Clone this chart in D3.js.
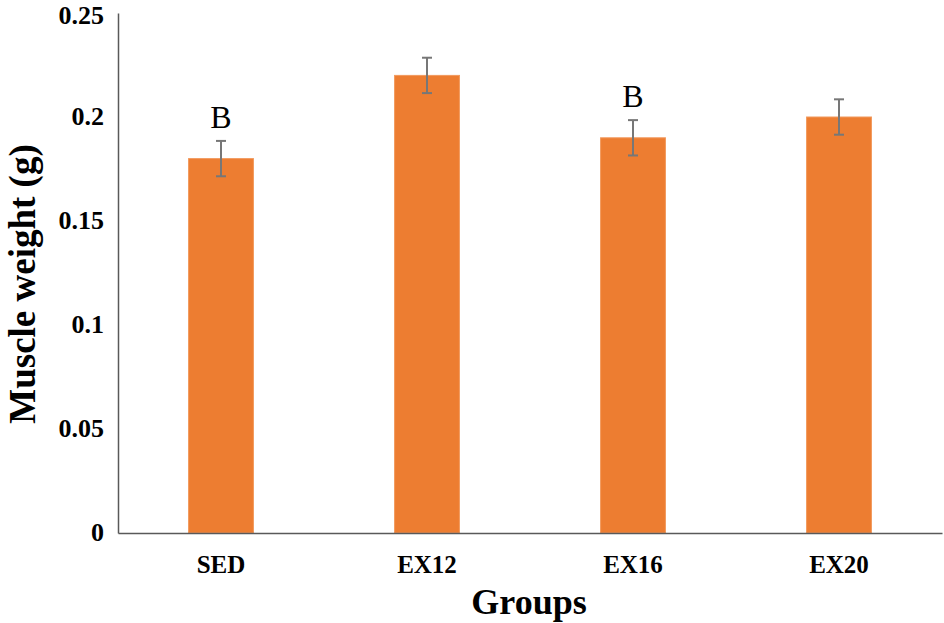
<!DOCTYPE html>
<html><head><meta charset="utf-8">
<script src="https://cdn.jsdelivr.net/npm/d3@7"></script>
<style>body{margin:0;background:#fff}svg{display:block}</style>
</head><body>
<script>
const categories = ["SED", "EX12", "EX16", "EX20"];
const values = [0.18, 0.22, 0.19, 0.20];
const errors = [0.0085, 0.0085, 0.0085, 0.0085];
const letters = ["B", "", "B", ""];
const yTicks = [0, 0.05, 0.1, 0.15, 0.2, 0.25];
const yTickLabels = ["0", "0.05", "0.1", "0.15", "0.2", "0.25"];

(function () {
const W = 944, H = 623;
const mLeft = 118, mRight = 942, mTop = 13, mBottom = 533;
const svg = d3.select("body").append("svg").attr("width", W).attr("height", H);
const font = "'Liberation Serif','Times New Roman',serif";

const x = d3.scaleBand().domain(categories).range([mLeft, mRight]).paddingInner(0.685).paddingOuter(0.3425);
const y = d3.scaleLinear().domain([0, 0.25]).range([mBottom, mTop]);

// bars
svg.selectAll("rect.bar").data(categories).join("rect")
  .attr("class", "bar")
  .attr("x", d => x(d)).attr("width", x.bandwidth())
  .attr("y", (d, i) => y(values[i])).attr("height", (d, i) => mBottom - y(values[i]))
  .attr("fill", "#ED7D31").attr("stroke", "#F29A5E").attr("stroke-width", 1);

// error bars
const eb = svg.append("g").attr("stroke", "#777").attr("stroke-width", 2);
categories.forEach((c, i) => {
  const cx = x(c) + x.bandwidth() / 2;
  const y1 = y(values[i] + errors[i]), y2 = y(values[i] - errors[i]);
  eb.append("line").attr("x1", cx).attr("x2", cx).attr("y1", y1).attr("y2", y2);
  eb.append("line").attr("x1", cx - 5).attr("x2", cx + 5).attr("y1", y1).attr("y2", y1);
  eb.append("line").attr("x1", cx - 5).attr("x2", cx + 5).attr("y1", y2).attr("y2", y2);
});

// letters
svg.selectAll("text.letter").data(categories).join("text")
  .attr("class", "letter")
  .attr("x", d => x(d) + x.bandwidth() / 2)
  .attr("y", (d, i) => y(values[i] + errors[i]) - 13)
  .attr("text-anchor", "middle")
  .attr("font-family", font).attr("font-size", 32)
  .text((d, i) => letters[i]);

// y axis
const yAxis = d3.axisLeft(y).tickValues(yTicks).tickFormat((d, i) => yTickLabels[i]).tickSize(0).tickPadding(14);
const gy = svg.append("g").attr("transform", `translate(${mLeft},0)`).call(yAxis);
gy.select(".domain").attr("stroke", "#595959").attr("stroke-width", 1.5);
gy.selectAll("text").attr("font-family", font).attr("font-weight", "bold").attr("font-size", 26).attr("fill", "#000")
  .attr("dy", (d, i) => i === yTicks.length - 1 ? "0.42em" : "0.3em");

// x axis
const xAxis = d3.axisBottom(x).tickSize(0).tickPadding(22);
const gx = svg.append("g").attr("transform", `translate(0,${mBottom})`).call(xAxis);
gx.select(".domain").attr("stroke", "#595959").attr("stroke-width", 1.5);
gx.selectAll("text").attr("font-family", font).attr("font-weight", "bold").attr("font-size", 25).attr("fill", "#000");

// titles
svg.append("text").attr("x", 529).attr("y", 614).attr("text-anchor", "middle")
  .attr("font-family", font).attr("font-weight", "bold").attr("font-size", 36).text("Groups");
svg.append("text").attr("transform", "translate(35,284) rotate(-90)").attr("text-anchor", "middle")
  .attr("font-family", font).attr("font-weight", "bold").attr("font-size", 37).text("Muscle weight (g)");
})();
</script>
</body></html>
